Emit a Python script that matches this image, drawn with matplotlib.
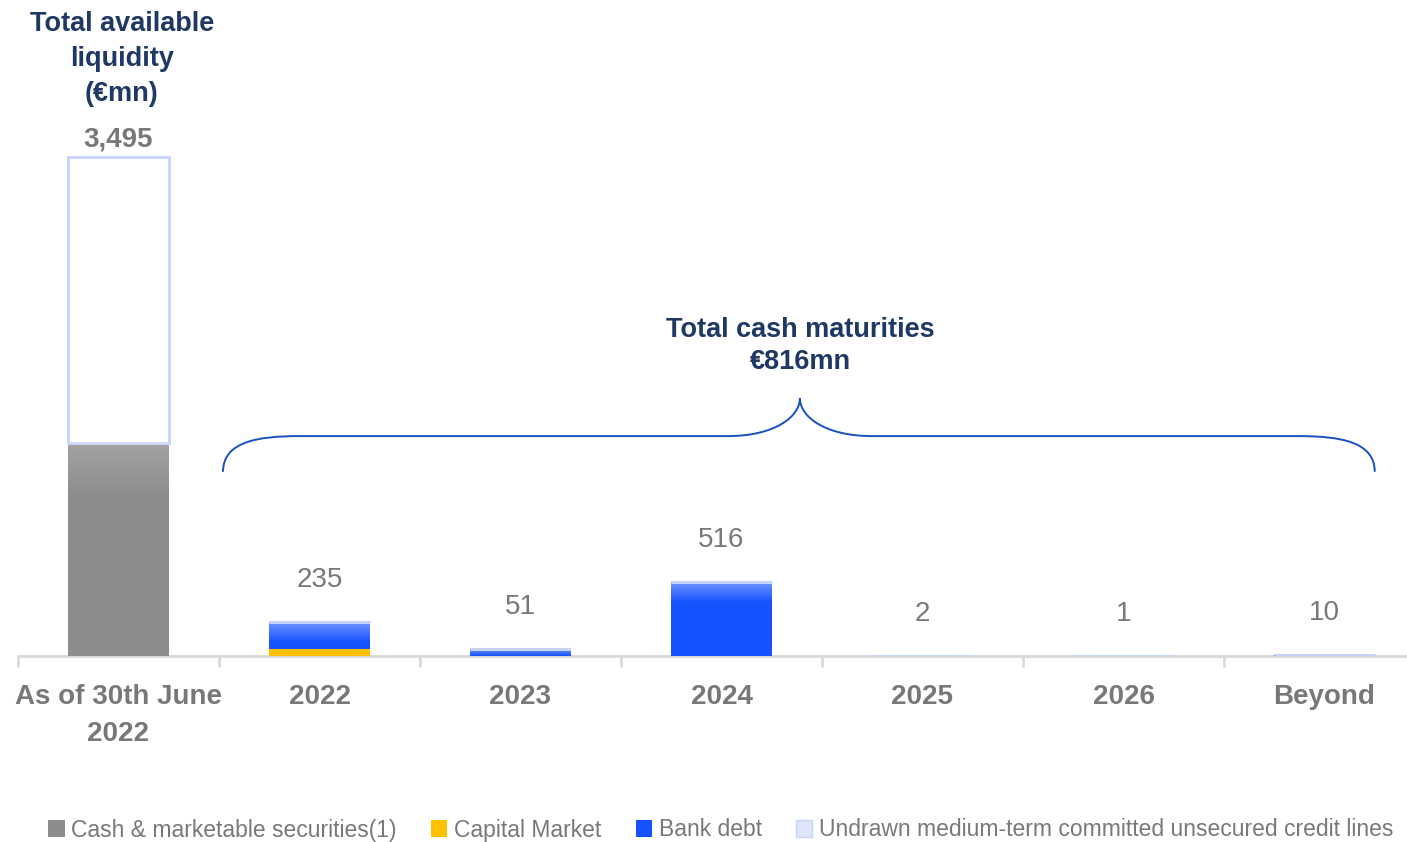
import numpy as np
import matplotlib
matplotlib.use("Agg")
import matplotlib.pyplot as plt
from matplotlib.path import Path
from matplotlib.patches import PathPatch, Patch

plt.rcParams['font.family'] = ['Liberation Sans', 'DejaVu Sans']

categories = ["As of 30th June\n2022", "2022", "2023", "2024", "2025", "2026", "Beyond"]
cash = [1495, 0, 0, 0, 0, 0, 0]
capital_market = [0, 50, 0, 0, 0, 0, 0]
bank_debt = [0, 185, 51, 516, 2, 1, 10]
undrawn = [2000, 0, 0, 0, 0, 0, 0]
value_labels = ["3,495", "235", "51", "516", "2", "1", "10"]
maturity_total = "€816mn"

NAVY = "#1f3864"
GREY_TXT = "#787878"
C_CASH = "#8c8c8c"
C_CAP = "#ffc000"
C_BANK = "#1652ff"
C_UND_EDGE = "#c6d4fb"

fig = plt.figure(figsize=(14.07, 8.42), dpi=100)
ax = fig.add_axes([18 / 1407, 1 - 656 / 842, 1389 / 1407, 656 / 842])
ymax = 4594
px = ymax / 656.0  # data units per pixel
x = np.arange(len(categories))
w = 0.5


def shade_top(xc, top, depth_px, alpha_top, height):
    # white glossy fade at the top of a bar
    d = min(depth_px * px, height)
    if d < 3 * px:
        return
    n = 64
    img = np.ones((n, 1, 4))
    img[:, 0, 3] = alpha_top * (1 - np.linspace(0, 1, n))
    ax.imshow(img, extent=(xc - w / 2, xc + w / 2, top - d, top), aspect='auto',
              zorder=4, interpolation='bilinear')


ax.bar(x, cash, w, color=C_CASH, zorder=3)
ax.bar(x, capital_market, w, color=C_CAP, zorder=3)
ax.bar(x, bank_debt, w, bottom=capital_market, color=C_BANK, zorder=3)
base_und = np.array(cash) + np.array(capital_market) + np.array(bank_debt)
ax.bar(x[0], undrawn[0], w, bottom=base_und[0], facecolor="white",
       edgecolor=C_UND_EDGE, linewidth=2, zorder=3)

# gloss on grey bar top and on the maturity bars
shade_top(x[0], cash[0], 55, 0.2, cash[0])
for i in range(1, len(x)):
    h = capital_market[i] + bank_debt[i]
    shade_top(x[i], h, 20, 0.4, h)
    ax.hlines(h, x[i] - w / 2, x[i] + w / 2, color="#c5d3f7", linewidth=2.2, zorder=5)

totals = np.array(cash) + np.array(capital_market) + np.array(bank_debt) + np.array(undrawn)
ax.annotate(value_labels[0], (x[0], totals[0]), xytext=(0, 17), textcoords='offset pixels',
            ha='center', va='center', fontsize=20, fontweight='bold', color=GREY_TXT)
for i in range(1, len(x)):
    ax.annotate(value_labels[i], (x[i], totals[i]), xytext=(0, 42), textcoords='offset pixels',
                ha='center', va='center', fontsize=20, color=GREY_TXT)

# curly brace over the maturity years
xl, xr, xm = 0.52, 6.25, 3.39
yb, yh, yt = 1290, 1540, 1805
cw, mw = 0.38, 0.36
verts = [(xl, yb), (xl, yb + 210), (xl + 0.17, yh), (xl + cw, yh),
         (xm - mw, yh),
         (xm - 0.12, yh), (xm, yh + 140), (xm, yt),
         (xm, yh + 140), (xm + 0.12, yh), (xm + mw, yh),
         (xr - cw, yh),
         (xr - 0.17, yh), (xr, yb + 210), (xr, yb)]
codes = [Path.MOVETO, Path.CURVE4, Path.CURVE4, Path.CURVE4,
         Path.LINETO,
         Path.CURVE4, Path.CURVE4, Path.CURVE4,
         Path.CURVE4, Path.CURVE4, Path.CURVE4,
         Path.LINETO,
         Path.CURVE4, Path.CURVE4, Path.CURVE4]
ax.add_patch(PathPatch(Path(verts, codes), facecolor='none', edgecolor="#1a4fbf",
                       linewidth=1.4, zorder=5))

fig.text(800 / 1407, 1 - 346 / 842, "Total cash maturities\n" + maturity_total,
         ha='center', va='center', fontsize=19.5, fontweight='bold', color=NAVY,
         linespacing=1.26)
fig.text(122 / 1407, 1 - 59 / 842, "Total available\nliquidity\n(€mn)",
         ha='center', va='center', fontsize=19.5, fontweight='bold', color=NAVY,
         linespacing=1.45)

ax.set_xlim(-0.5, -0.5 + 1389 / 201)
ax.set_ylim(0, ymax)
ax.set_xticks(x)
ax.set_xticklabels(categories, fontsize=20, fontweight='bold', color=GREY_TXT,
                   linespacing=1.55)
ax.set_xticks(np.arange(-0.5, 6.5, 1), minor=True)
ax.tick_params(axis='x', which='major', length=0, pad=20)
ax.tick_params(axis='x', which='minor', length=8, width=2, color="#d9d9d9")
ax.set_yticks([])
for s in ['top', 'right', 'left']:
    ax.spines[s].set_visible(False)
ax.spines['bottom'].set_color("#d9d9d9")
ax.spines['bottom'].set_linewidth(2)
ax.set_facecolor('none')

handles = [Patch(facecolor=C_CASH), Patch(facecolor=C_CAP), Patch(facecolor=C_BANK),
           Patch(facecolor="#dde6f8", edgecolor=C_UND_EDGE)]
labels = ["Cash & marketable securities(1)", "Capital Market", "Bank debt",
          "Undrawn medium-term committed unsecured credit lines"]
fig.legend(handles, labels, loc='center', bbox_to_anchor=(721 / 1407, 1 - 830 / 842),
           ncol=4, frameon=False, fontsize=16.5, handlelength=0.7, handleheight=0.7,
           handletextpad=0.3, columnspacing=1.5, labelcolor=GREY_TXT)

fig.savefig("out.png", dpi=100)
